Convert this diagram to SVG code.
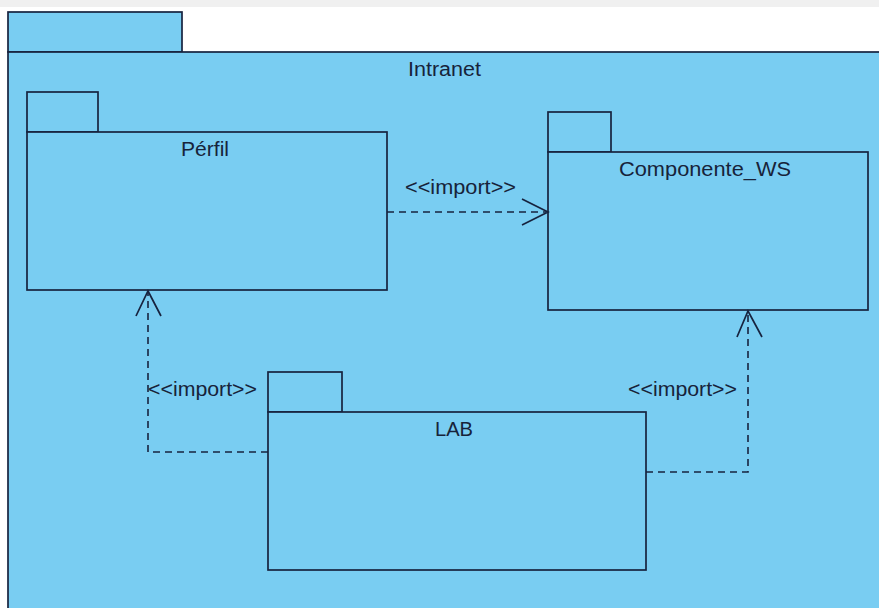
<svg xmlns="http://www.w3.org/2000/svg" width="879" height="608" viewBox="0 0 879 608">
<style>
.pk{fill:#79cdf2;stroke:#17233f;stroke-width:1.7}
.t{font-family:"Liberation Sans",Arial,sans-serif;font-size:19.5px;fill:#17233a}
.c{fill:none;stroke:#17233f;stroke-width:1.6;stroke-dasharray:7,5}
.h{fill:none;stroke:#17233f;stroke-width:1.7}
</style>
<rect x="0" y="0" width="879" height="608" fill="#ffffff"/>
<rect x="0" y="0" width="879" height="7" fill="#f0f0f0"/>
<g id="intranet">
<rect class="pk" x="8" y="12" width="174" height="40"/>
<rect class="pk" x="8" y="52" width="880" height="570"/>
<text class="t" x="408" y="76" textLength="73" lengthAdjust="spacingAndGlyphs">Intranet</text>
</g>
<g id="perfil">
<rect class="pk" x="27" y="92" width="71" height="40"/>
<rect class="pk" x="27" y="132" width="360" height="158"/>
<text class="t" x="181" y="156" textLength="48" lengthAdjust="spacingAndGlyphs">Pérfil</text>
</g>
<g id="componente_ws">
<rect class="pk" x="548" y="112" width="63" height="40"/>
<rect class="pk" x="548" y="152" width="320" height="158"/>
<text class="t" x="619" y="176" textLength="172" lengthAdjust="spacingAndGlyphs">Componente_WS</text>
</g>
<g id="lab">
<rect class="pk" x="268" y="372" width="74" height="40"/>
<rect class="pk" x="268" y="412" width="378" height="158"/>
<text class="t" x="435" y="436" textLength="38" lengthAdjust="spacingAndGlyphs">LAB</text>
</g>
<g id="connectors">
<path class="c" d="M387,212 H546"/>
<path class="h" d="M522,199 L548,212 L522,225"/>
<text class="t" x="405" y="194" textLength="111" lengthAdjust="spacingAndGlyphs">&lt;&lt;import&gt;&gt;</text>
<path class="c" d="M268,452 H148 V292"/>
<path class="h" d="M136,316 L148,291 L161,316"/>
<text class="t" x="148" y="396" textLength="109" lengthAdjust="spacingAndGlyphs">&lt;&lt;import&gt;&gt;</text>
<path class="c" d="M646,472 H748 V312"/>
<path class="h" d="M737,337 L748,311 L762,337"/>
<text class="t" x="628" y="396" textLength="109" lengthAdjust="spacingAndGlyphs">&lt;&lt;import&gt;&gt;</text>
</g>
</svg>
